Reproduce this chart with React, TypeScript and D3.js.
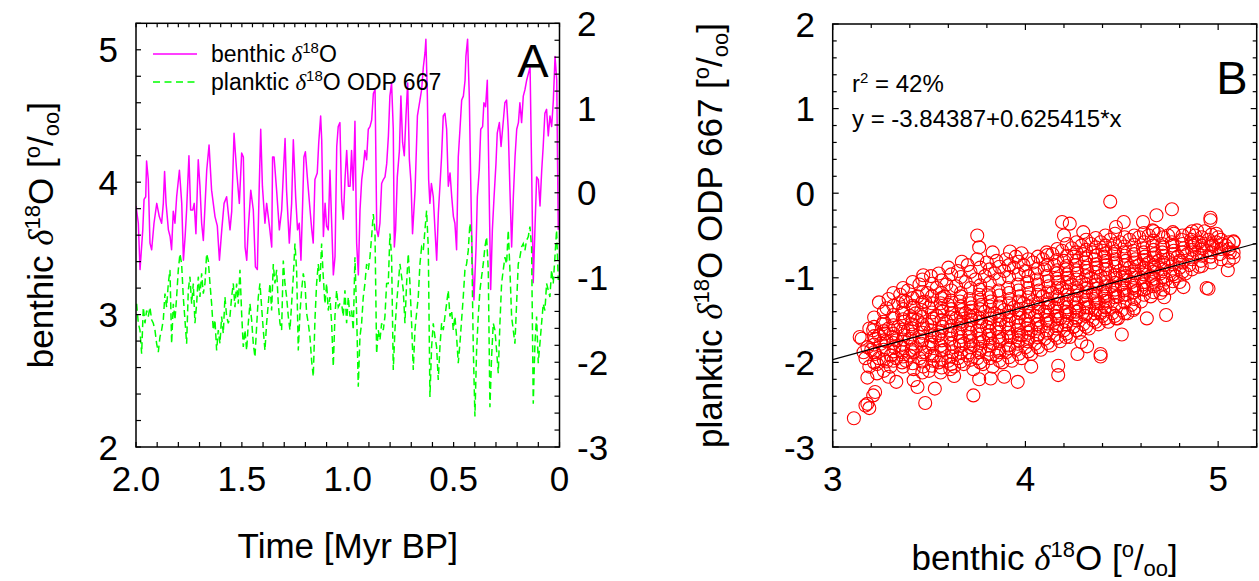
import React from "react";
import * as d3 from "d3";

// ---------- Panel A: benthic d18O (age in Myr BP, value in permil) ----------
const benthic: [number, number][] = [
  [2.000,3.82],[1.989,3.69],[1.981,3.34],[1.968,3.64],[1.962,3.87],[1.954,3.89],[1.950,4.16],[1.942,4.02],
  [1.934,3.54],[1.926,3.49],[1.915,3.69],[1.902,3.84],[1.890,3.74],[1.879,3.69],[1.871,3.84],[1.865,4.08],
  [1.858,3.84],[1.847,3.64],[1.839,3.59],[1.832,3.49],[1.824,3.78],[1.816,3.69],[1.808,3.89],[1.795,4.09],
  [1.784,3.84],[1.776,3.41],[1.768,3.59],[1.761,3.79],[1.750,4.20],[1.742,3.79],[1.732,3.79],[1.725,3.84],
  [1.717,3.61],[1.706,4.17],[1.698,3.97],[1.690,3.69],[1.682,3.56],[1.666,4.09],[1.655,4.28],[1.643,3.94],
  [1.627,3.74],[1.616,3.67],[1.606,3.41],[1.595,3.64],[1.584,3.84],[1.572,3.89],[1.556,3.64],[1.548,3.78],
  [1.537,4.37],[1.525,4.09],[1.512,3.84],[1.501,4.22],[1.493,4.19],[1.485,3.51],[1.477,3.41],[1.470,3.64],
  [1.458,3.94],[1.446,3.79],[1.436,3.36],[1.427,3.34],[1.418,3.97],[1.411,4.40],[1.403,3.97],[1.391,3.69],
  [1.383,3.84],[1.370,3.67],[1.359,3.51],[1.355,4.19],[1.348,4.19],[1.336,3.94],[1.323,3.64],[1.312,3.79],
  [1.304,4.07],[1.296,4.33],[1.289,3.94],[1.276,3.54],[1.265,3.84],[1.257,4.32],[1.246,3.89],[1.237,3.64],
  [1.229,3.69],[1.221,3.41],[1.213,3.84],[1.207,4.19],[1.200,4.23],[1.191,4.04],[1.178,3.79],[1.170,3.64],
  [1.163,3.54],[1.155,4.02],[1.144,4.07],[1.137,4.30],[1.128,4.50],[1.123,4.32],[1.115,3.59],[1.107,3.84],
  [1.100,3.67],[1.092,3.64],[1.084,4.09],[1.078,3.79],[1.068,3.30],[1.060,3.44],[1.052,4.27],[1.045,4.42],
  [1.037,4.45],[1.029,3.87],[1.021,3.72],[1.013,4.02],[1.005,4.24],[0.997,3.97],[0.989,3.97],[0.982,4.24],
  [0.974,3.94],[0.966,4.46],[0.958,3.54],[0.950,3.30],[0.942,3.79],[0.934,4.02],[0.926,4.12],[0.919,4.24],
  [0.911,4.17],[0.903,4.40],[0.895,4.42],[0.887,4.47],[0.879,4.67],[0.871,4.70],[0.863,3.64],[0.856,3.59],
  [0.848,3.69],[0.840,3.99],[0.832,4.02],[0.824,4.04],[0.816,4.14],[0.808,4.35],[0.801,4.65],[0.793,4.75],
  [0.785,4.40],[0.780,3.51],[0.774,3.64],[0.766,4.04],[0.756,4.24],[0.749,4.65],[0.741,4.30],[0.733,4.20],
  [0.725,4.50],[0.717,4.75],[0.709,4.17],[0.701,3.99],[0.694,3.61],[0.682,3.94],[0.671,4.50],[0.659,4.62],
  [0.651,4.70],[0.643,4.87],[0.635,4.98],[0.631,5.08],[0.624,4.65],[0.618,4.02],[0.612,3.84],[0.605,3.99],
  [0.596,3.89],[0.588,3.64],[0.580,3.41],[0.572,3.77],[0.564,3.99],[0.557,4.19],[0.549,4.50],[0.541,4.52],
  [0.533,4.40],[0.525,3.97],[0.517,4.07],[0.509,3.89],[0.501,3.74],[0.494,3.69],[0.486,3.49],[0.478,4.19],
  [0.470,4.40],[0.462,4.62],[0.454,4.65],[0.446,4.77],[0.442,4.95],[0.434,5.08],[0.426,4.65],[0.420,4.07],
  [0.412,3.39],[0.404,3.11],[0.394,3.51],[0.388,3.89],[0.379,4.09],[0.372,4.40],[0.363,4.42],[0.357,4.60],
  [0.349,4.57],[0.341,4.77],[0.333,4.02],[0.325,3.19],[0.317,3.64],[0.309,3.89],[0.300,4.14],[0.294,4.37],
  [0.284,4.45],[0.276,4.27],[0.265,4.47],[0.258,4.60],[0.250,4.62],[0.242,4.40],[0.234,3.94],[0.226,3.51],
  [0.218,3.89],[0.210,4.19],[0.202,4.40],[0.194,4.45],[0.187,4.60],[0.179,4.45],[0.171,4.65],[0.163,4.70],
  [0.155,4.77],[0.147,4.82],[0.139,4.87],[0.132,4.14],[0.124,3.24],[0.116,3.64],[0.108,4.04],[0.100,4.02],
  [0.092,3.82],[0.084,4.09],[0.077,4.27],[0.069,4.52],[0.061,4.55],[0.053,4.35],[0.045,4.50],[0.037,4.42],
  [0.029,4.62],[0.021,4.95],[0.013,4.77],[0.006,3.64],
];

// ---------- Panel A: planktic d18O ODP 667, sampled on a regular age grid ----------
const PLANKTIC_FIRST_AGE = 1.997; // Myr BP
const PLANKTIC_STEP = 0.00787; // Myr
const plankticValues: number[] = [
  -1.31,-1.54,-1.62,-1.90,-1.35,-1.54,-1.39,-1.46,-1.35,-1.50,
  -1.54,-1.62,-1.78,-1.88,-1.70,-1.62,-1.50,-1.19,-1.35,-1.07,
  -0.91,-1.78,-1.31,-1.50,-1.23,-0.91,-0.72,-0.84,-1.23,-1.50,
  -1.78,-1.15,-0.99,-1.31,-1.07,-1.54,-1.31,-0.99,-1.23,-0.95,
  -1.19,-1.07,-0.72,-0.80,-1.07,-1.31,-1.62,-1.50,-1.86,-1.62,
  -1.78,-1.46,-1.66,-1.23,-1.46,-1.54,-1.46,-1.23,-1.07,-1.35,
  -1.07,-1.31,-0.91,-1.42,-1.82,-1.62,-1.86,-1.54,-1.31,-1.50,
  -1.78,-1.94,-1.58,-1.23,-1.07,-1.35,-1.62,-1.86,-1.54,-1.31,
  -1.07,-1.39,-0.84,-1.07,-0.91,-1.31,-1.54,-1.62,-0.80,-1.07,
  -1.23,-1.46,-1.62,-1.31,-0.99,-0.60,-0.91,-1.86,-1.42,-1.15,
  -0.95,-1.07,-1.42,-1.54,-1.70,-1.98,-2.17,-1.50,-1.07,-0.84,
  -1.07,-0.60,-0.99,-1.31,-1.07,-1.39,-1.23,-1.54,-2.05,-1.46,
  -1.15,-1.35,-1.31,
  -1.31,-1.46,-1.15,-1.54,-1.23,-1.46,-1.39,-1.62,-0.76,-1.42,
  -2.29,-1.70,-1.54,-1.23,-1.07,-0.84,-0.91,-0.76,-0.52,-0.25,
  -0.44,-1.90,-1.62,-1.74,-1.54,-1.62,-1.46,-1.07,-1.07,-0.48,
  -0.76,-2.09,-1.62,-1.31,-1.07,-0.84,-0.99,-1.15,-1.54,-1.07,
  -0.72,-1.07,-1.54,-2.09,-1.62,-1.42,-1.23,-0.84,-0.64,-0.68,
  -0.44,-0.21,-0.64,-2.41,-1.82,-1.54,-1.70,-1.82,-2.21,-1.82,
  -1.54,-1.62,-1.46,-1.31,-1.15,-1.46,-1.39,-1.62,-1.46,-1.70,
  -2.01,-1.78,-1.50,-1.23,-0.91,-0.84,-0.68,-0.36,-0.52,-1.82,
  -2.64,-1.86,-1.46,-1.15,-0.99,-0.84,-0.64,-0.52,-0.91,-2.53,
  -1.94,-1.54,-1.62,-1.86,-2.13,-1.54,-1.07,-0.91,-0.76,-0.84,
  -0.44,-0.91,-1.46,-1.62,-1.78,-1.31,-0.84,-0.76,-0.64,-0.60,
  -0.68,-0.56,-0.52,-0.40,-0.64,-2.49,-1.78,-1.46,-2.01,-1.78,
  -1.54,-1.31,-1.39,-1.07,-1.15,-1.23,-0.91,-1.07,-0.76,-0.44,
  -1.03,
];

// ---------- Panel B: planktic vs benthic (x = benthic, y = planktic) ----------
const scatterPoints: [number, number][] = [
  // scattered outer points
  [3.11,-2.66],[3.18,-2.49],[3.19,-2.54],[3.17,-2.51],[3.22,-2.35],[3.21,-2.39],[3.18,-2.18],[3.23,-2.13],
  [3.14,-1.70],[3.24,-1.29],[3.48,-2.48],[3.73,-2.39],[3.96,-2.23],[3.82,-2.19],[3.76,-2.20],[3.89,-2.17],
  [4.17,-2.15],[4.39,-1.90],[4.39,-1.93],[4.27,-1.90],[4.32,-1.81],[4.50,-1.67],[4.63,-1.48],[4.73,-1.44],
  [4.82,-1.11],[4.95,-1.13],[5.05,-0.91],[5.08,-0.76],[5.08,-0.70],[5.08,-0.57],[4.99,-0.58],[4.96,-0.29],
  [4.96,-0.32],[4.76,-0.19],[4.44,-0.10],[4.68,-0.26],[4.61,-0.34],[4.51,-0.34],[4.47,-0.40],[4.19,-0.34],
  [4.23,-0.36],[4.20,-0.50],[3.75,-0.50],[3.76,-0.64],[4.30,-0.46],[4.90,-0.87],[4.94,-1.12],[4.72,-1.23],
  [4.56,-1.38],[4.39,-1.42],[4.47,-1.48],[4.25,-1.58],[4.21,-1.70],[4.29,-1.76],[4.17,-2.04],[4.03,-2.05],
  [3.63,-2.16],[3.42,-2.21],[3.53,-2.31],[3.44,-2.29],[3.33,-2.23],[3.29,-2.17],[3.28,-1.99],[3.47,-0.97],
  [3.67,-0.81],[3.83,-0.70],[3.92,-0.69],[3.98,-0.71],[4.11,-0.70],[4.77,-0.48],[4.89,-0.44],[4.88,-0.60],
  [4.99,-0.48],[4.80,-0.80],[4.66,-0.44],
  // dense core
  [3.15,-1.72],[3.18,-1.82],[3.19,-1.60],[3.17,-1.95],[3.19,-2.05],[3.16,-1.88],
  [3.20,-1.85],[3.22,-1.72],[3.24,-1.95],[3.21,-1.62],[3.25,-1.78],[3.23,-2.02],[3.26,-1.55],[3.24,-1.68],[3.22,-1.90],
  [3.28,-1.75],[3.29,-1.60],[3.30,-1.92],[3.31,-1.48],[3.28,-1.36],[3.32,-1.82],[3.30,-2.05],[3.27,-1.66],[3.31,-1.70],[3.29,-1.25],
  [3.34,-1.58],[3.35,-1.80],[3.36,-1.42],[3.33,-1.95],[3.37,-1.68],[3.35,-1.20],[3.34,-1.30],[3.36,-2.00],[3.37,-1.52],[3.33,-1.74],[3.36,-1.88],
  [3.39,-1.62],[3.40,-1.45],[3.41,-1.85],[3.38,-1.98],[3.42,-1.35],[3.40,-1.72],[3.39,-1.15],[3.41,-1.55],[3.42,-2.08],[3.38,-1.28],[3.40,-1.92],
  [3.44,-1.50],[3.45,-1.70],[3.46,-1.38],[3.43,-1.83],[3.47,-1.60],[3.45,-1.95],[3.44,-1.22],[3.46,-1.78],[3.47,-2.05],[3.43,-1.42],[3.45,-1.08],
  [3.49,-1.55],[3.50,-1.35],[3.51,-1.75],[3.48,-1.88],[3.52,-1.48],[3.50,-2.10],[3.49,-1.18],[3.51,-1.62],[3.52,-1.98],[3.48,-1.28],[3.50,-1.82],[3.51,-0.98],
  [3.54,-1.45],[3.55,-1.68],[3.56,-1.30],[3.53,-1.92],[3.57,-1.58],[3.55,-2.00],[3.54,-1.12],[3.56,-1.80],[3.57,-1.40],[3.53,-1.70],[3.55,-0.95],[3.56,-2.12],
  [3.59,-1.52],[3.60,-1.32],[3.61,-1.72],[3.58,-1.85],[3.62,-1.42],[3.60,-1.98],[3.59,-1.08],[3.61,-1.62],[3.62,-1.88],[3.58,-1.22],[3.60,-0.88],[3.61,-2.08],
  [3.64,-1.48],[3.65,-1.65],[3.66,-1.28],[3.63,-1.82],[3.67,-1.55],[3.65,-1.95],[3.64,-1.10],[3.66,-1.75],[3.67,-1.38],[3.63,-2.05],[3.65,-0.92],[3.66,-1.60],
  [3.69,-1.42],[3.70,-1.60],[3.71,-1.25],[3.68,-1.78],[3.72,-1.50],[3.70,-1.92],[3.69,-1.05],[3.71,-1.70],[3.72,-1.35],[3.68,-2.02],[3.70,-0.85],[3.71,-1.88],
  [3.74,-1.45],[3.75,-1.62],[3.76,-1.20],[3.73,-1.80],[3.77,-1.52],[3.75,-1.95],[3.74,-1.02],[3.76,-1.72],[3.77,-1.32],[3.73,-2.08],[3.75,-0.78],[3.76,-1.88],
  [3.79,-1.40],[3.80,-1.58],[3.81,-1.18],[3.78,-1.75],[3.82,-1.48],[3.80,-1.90],[3.79,-0.98],[3.81,-1.68],[3.82,-1.28],[3.78,-2.02],[3.80,-0.82],[3.81,-1.85],
  [3.84,-1.42],[3.85,-1.60],[3.86,-1.15],[3.83,-1.78],[3.87,-1.50],[3.85,-1.92],[3.84,-0.95],[3.86,-1.70],[3.87,-1.30],[3.83,-2.05],[3.85,-0.80],[3.86,-1.85],
  [3.89,-1.38],[3.90,-1.55],[3.91,-1.12],[3.88,-1.72],[3.92,-1.45],[3.90,-1.88],[3.89,-0.92],[3.91,-1.65],[3.92,-1.25],[3.88,-2.00],[3.90,-0.78],[3.91,-1.80],
  [3.94,-1.35],[3.95,-1.52],[3.96,-1.08],[3.93,-1.70],[3.97,-1.42],[3.95,-1.85],[3.94,-0.88],[3.96,-1.62],[3.97,-1.22],[3.93,-1.98],[3.95,-0.75],[3.96,-1.78],
  [3.99,-1.30],[4.00,-1.50],[4.01,-1.05],[3.98,-1.68],[4.02,-1.40],[4.00,-1.82],[3.99,-0.85],[4.01,-1.60],[4.02,-1.18],[3.98,-1.95],[4.00,-0.92],[4.01,-1.75],
  [4.04,-1.28],[4.05,-1.45],[4.06,-1.02],[4.03,-1.62],[4.07,-1.35],[4.05,-1.78],[4.04,-0.82],[4.06,-1.55],[4.07,-1.15],[4.03,-1.90],[4.05,-0.95],[4.06,-1.70],
  [4.09,-1.22],[4.10,-1.40],[4.11,-0.98],[4.08,-1.58],[4.12,-1.30],[4.10,-1.72],[4.09,-0.78],[4.11,-1.50],[4.12,-1.10],[4.08,-1.85],[4.10,-0.90],[4.11,-1.65],
  [4.14,-1.18],[4.15,-1.35],[4.16,-0.95],[4.13,-1.52],[4.17,-1.25],[4.15,-1.68],[4.14,-0.72],[4.16,-1.45],[4.17,-1.05],[4.13,-1.80],[4.15,-0.85],[4.16,-1.60],
  [4.19,-1.12],[4.20,-1.30],[4.21,-0.90],[4.18,-1.48],[4.22,-1.20],[4.20,-1.62],[4.19,-0.68],[4.21,-1.40],[4.22,-1.00],[4.18,-1.75],[4.20,-0.80],[4.21,-1.55],
  [4.24,-1.08],[4.25,-1.25],[4.26,-0.85],[4.23,-1.42],[4.27,-1.15],[4.25,-1.58],[4.24,-0.65],[4.26,-1.35],[4.27,-0.95],[4.23,-1.70],[4.25,-0.75],[4.26,-1.50],
  [4.29,-1.05],[4.30,-1.22],[4.31,-0.82],[4.28,-1.38],[4.32,-1.12],[4.30,-1.55],[4.29,-0.62],[4.31,-1.30],[4.32,-0.92],[4.28,-1.65],[4.30,-0.72],[4.31,-1.45],
  [4.34,-1.00],[4.35,-1.18],[4.36,-0.78],[4.33,-1.35],[4.37,-1.08],[4.35,-1.50],[4.34,-0.60],[4.36,-1.25],[4.37,-0.88],[4.33,-1.60],[4.35,-0.70],[4.36,-1.42],
  [4.39,-0.98],[4.40,-1.15],[4.41,-0.75],[4.38,-1.30],[4.42,-1.05],[4.40,-1.45],[4.39,-0.58],[4.41,-1.22],[4.42,-0.85],[4.38,-1.55],[4.40,-0.68],[4.41,-1.38],
  [4.44,-0.95],[4.45,-1.10],[4.46,-0.72],[4.43,-1.28],[4.47,-1.00],[4.45,-1.42],[4.44,-0.55],[4.46,-1.18],[4.47,-0.82],[4.43,-1.52],[4.45,-0.65],
  [4.49,-0.92],[4.50,-1.08],[4.51,-0.70],[4.48,-1.22],[4.52,-0.98],[4.50,-1.38],[4.49,-0.58],[4.51,-1.15],[4.52,-0.80],[4.48,-1.48],
  [4.54,-0.88],[4.55,-1.05],[4.56,-0.68],[4.53,-1.20],[4.57,-0.95],[4.55,-1.32],[4.54,-0.55],[4.56,-1.12],[4.57,-0.78],[4.53,-1.42],
  [4.59,-0.85],[4.60,-1.00],[4.61,-0.65],[4.58,-1.15],[4.62,-0.92],[4.60,-1.28],[4.59,-0.52],[4.61,-1.08],[4.62,-0.75],
  [4.64,-0.82],[4.65,-0.98],[4.66,-0.62],[4.63,-1.12],[4.67,-0.88],[4.65,-1.22],[4.64,-0.50],[4.66,-1.05],[4.67,-0.72],
  [4.69,-0.80],[4.70,-0.95],[4.71,-0.60],[4.68,-1.08],[4.72,-0.85],[4.70,-1.18],[4.69,-0.48],[4.71,-0.70],
  [4.74,-0.78],[4.75,-0.92],[4.76,-0.58],[4.73,-1.02],[4.77,-0.68],[4.75,-1.12],[4.74,-0.50],
  [4.79,-0.75],[4.80,-0.88],[4.81,-0.55],[4.78,-0.98],[4.82,-0.65],[4.80,-1.05],
  [4.84,-0.72],[4.85,-0.85],[4.86,-0.55],[4.83,-0.95],[4.87,-0.62],[4.85,-0.48],
  [4.89,-0.70],[4.90,-0.58],[4.91,-0.80],[4.88,-0.50],[4.92,-0.65],
  [4.94,-0.68],[4.95,-0.55],[4.96,-0.75],[4.93,-0.45],[4.97,-0.62],
  [4.99,-0.65],[5.00,-0.52],[5.01,-0.72],[5.02,-0.60],
  [5.04,-0.62],[5.06,-0.70],[5.08,-0.58],
  // further core points between the above
  [3.215,-1.47],[3.215,-1.58],[3.215,-1.79],[3.215,-1.88],[3.215,-2.00],[3.215,-1.69],
  [3.265,-1.40],[3.265,-1.52],[3.265,-1.63],[3.265,-1.85],[3.265,-1.97],[3.265,-1.74],[3.265,-2.10],
  [3.315,-1.33],[3.315,-1.44],[3.315,-1.56],[3.315,-1.66],[3.315,-1.87],[3.315,-1.98],[3.315,-1.77],[3.315,-1.18],
  [3.365,-1.27],[3.365,-1.37],[3.365,-1.49],[3.365,-1.61],[3.365,-1.73],[3.365,-1.83],[3.365,-1.93],[3.365,-2.05],[3.365,-1.12],
  [3.415,-1.24],[3.415,-1.33],[3.415,-1.49],[3.415,-1.67],[3.415,-1.78],[3.415,-1.88],[3.415,-2.01],[3.415,-1.60],[3.415,-1.05],
  [3.465,-1.17],[3.465,-1.29],[3.465,-1.46],[3.465,-1.55],[3.465,-1.65],[3.465,-1.74],[3.465,-1.88],[3.465,-1.99],[3.465,-1.02],[3.465,-2.12],
  [3.515,-1.07],[3.515,-1.22],[3.515,-1.41],[3.515,-1.52],[3.515,-1.68],[3.515,-1.79],[3.515,-1.92],[3.515,-2.04],[3.515,-1.30],
  [3.565,-1.03],[3.565,-1.18],[3.565,-1.36],[3.565,-1.50],[3.565,-1.63],[3.565,-1.74],[3.565,-1.86],[3.565,-1.96],[3.565,-1.24],[3.565,-2.06],
  [3.615,-0.96],[3.615,-1.15],[3.615,-1.27],[3.615,-1.37],[3.615,-1.47],[3.615,-1.57],[3.615,-1.67],[3.615,-1.78],[3.615,-1.93],[3.615,-2.02],
  [3.665,-0.99],[3.665,-1.18],[3.665,-1.34],[3.665,-1.44],[3.665,-1.52],[3.665,-1.70],[3.665,-1.80],[3.665,-1.89],[3.665,-1.99],[3.665,-1.22],
  [3.715,-0.93],[3.715,-1.12],[3.715,-1.30],[3.715,-1.39],[3.715,-1.46],[3.715,-1.55],[3.715,-1.65],[3.715,-1.75],[3.715,-1.82],[3.715,-1.97],
  [3.765,-0.88],[3.765,-1.09],[3.765,-1.26],[3.765,-1.37],[3.765,-1.48],[3.765,-1.57],[3.765,-1.67],[3.765,-1.77],[3.765,-1.84],[3.765,-2.00],[3.765,-1.14],
  [3.815,-0.90],[3.815,-1.06],[3.815,-1.23],[3.815,-1.34],[3.815,-1.44],[3.815,-1.53],[3.815,-1.63],[3.815,-1.72],[3.815,-1.80],[3.815,-1.95],
  [3.865,-0.87],[3.865,-1.02],[3.865,-1.21],[3.865,-1.34],[3.865,-1.45],[3.865,-1.55],[3.865,-1.64],[3.865,-1.75],[3.865,-1.88],[3.865,-1.98],
  [3.915,-0.85],[3.915,-0.99],[3.915,-1.18],[3.915,-1.30],[3.915,-1.40],[3.915,-1.50],[3.915,-1.60],[3.915,-1.70],[3.915,-1.83],[3.915,-1.94],
  [3.965,-0.81],[3.965,-0.96],[3.965,-1.15],[3.965,-1.28],[3.965,-1.38],[3.965,-1.47],[3.965,-1.56],[3.965,-1.67],[3.965,-1.74],[3.965,-1.90],
  [4.015,-0.78],[4.015,-0.98],[4.015,-1.12],[4.015,-1.23],[4.015,-1.34],[4.015,-1.45],[4.015,-1.55],[4.015,-1.65],[4.015,-1.71],[4.015,-1.87],
  [4.065,-0.75],[4.065,-0.89],[4.065,-1.08],[4.065,-1.20],[4.065,-1.31],[4.065,-1.40],[4.065,-1.50],[4.065,-1.60],[4.065,-1.67],[4.065,-1.82],
  [4.115,-0.73],[4.115,-0.85],[4.115,-1.04],[4.115,-1.17],[4.115,-1.26],[4.115,-1.35],[4.115,-1.44],[4.115,-1.54],[4.115,-1.62],[4.115,-1.77],
  [4.165,-0.66],[4.165,-0.79],[4.165,-0.91],[4.165,-1.01],[4.165,-1.12],[4.165,-1.22],[4.165,-1.31],[4.165,-1.40],[4.165,-1.49],[4.165,-1.57],[4.165,-1.71],
  [4.215,-0.60],[4.215,-0.74],[4.215,-0.86],[4.215,-0.96],[4.215,-1.06],[4.215,-1.16],[4.215,-1.26],[4.215,-1.35],[4.215,-1.44],[4.215,-1.52],[4.215,-1.66],
  [4.265,-0.58],[4.265,-0.70],[4.265,-0.80],[4.265,-0.91],[4.265,-1.02],[4.265,-1.12],[4.265,-1.21],[4.265,-1.30],[4.265,-1.40],[4.265,-1.47],[4.265,-1.62],
  [4.315,-0.55],[4.315,-0.67],[4.315,-0.77],[4.315,-0.88],[4.315,-0.98],[4.315,-1.08],[4.315,-1.17],[4.315,-1.26],[4.315,-1.35],[4.315,-1.42],[4.315,-1.58],
  [4.365,-0.53],[4.365,-0.64],[4.365,-0.74],[4.365,-0.84],[4.365,-0.94],[4.365,-1.04],[4.365,-1.13],[4.365,-1.21],[4.365,-1.30],[4.365,-1.38],[4.365,-1.52],
  [4.415,-0.50],[4.415,-0.62],[4.415,-0.71],[4.415,-0.80],[4.415,-0.90],[4.415,-1.00],[4.415,-1.10],[4.415,-1.18],[4.415,-1.27],[4.415,-1.35],[4.415,-1.48],
  [4.465,-0.48],[4.465,-0.60],[4.465,-0.69],[4.465,-0.78],[4.465,-0.87],[4.465,-0.97],[4.465,-1.06],[4.465,-1.14],[4.465,-1.23],[4.465,-1.32],[4.465,-1.45],
  [4.515,-0.52],[4.515,-0.63],[4.515,-0.74],[4.515,-0.85],[4.515,-0.94],[4.515,-1.03],[4.515,-1.12],[4.515,-1.20],[4.515,-1.29],[4.515,-1.42],
  [4.565,-0.50],[4.565,-0.61],[4.565,-0.72],[4.565,-0.82],[4.565,-0.91],[4.565,-1.00],[4.565,-1.09],[4.565,-1.17],[4.565,-1.25],[4.565,-1.36],
  [4.615,-0.47],[4.615,-0.58],[4.615,-0.70],[4.615,-0.79],[4.615,-0.88],[4.615,-0.96],[4.615,-1.05],[4.615,-1.14],[4.615,-1.20],
  [4.665,-0.45],[4.665,-0.56],[4.665,-0.67],[4.665,-0.76],[4.665,-0.85],[4.665,-0.93],[4.665,-1.01],[4.665,-1.10],[4.665,-1.17],
  [4.715,-0.52],[4.715,-0.64],[4.715,-0.74],[4.715,-0.82],[4.715,-0.90],[4.715,-0.99],[4.715,-1.07],[4.715,-1.14],
  [4.765,-0.46],[4.765,-0.62],[4.765,-0.72],[4.765,-0.84],[4.765,-0.96],[4.765,-1.04],
  [4.815,-0.50],[4.815,-0.60],[4.815,-0.70],[4.815,-0.82],[4.815,-0.93],
  [4.865,-0.45],[4.865,-0.58],[4.865,-0.67],[4.865,-0.78],[4.865,-0.90],
  [4.915,-0.52],[4.915,-0.62],[4.915,-0.74],[4.915,-0.86],
  [4.965,-0.49],[4.965,-0.60],[4.965,-0.70],[4.965,-0.82],
  [5.015,-0.55],[5.015,-0.66],[5.015,-0.78],
  [5.055,-0.58],[5.055,-0.66],[5.055,-0.80],
];

const REG_INTERCEPT = -3.84387;
const REG_SLOPE = 0.625415;
const rSquaredLabel = "42%";
const equationLabel = "y = -3.84387+0.625415*x";

// tick labels
const timeTicks = [2, 1.5, 1, 0.5, 0];
const timeTickLabels = ["2.0", "1.5", "1.0", "0.5", "0"];
const benthicTicks = [2, 3, 4, 5];
const plankticTicks = [-3, -2, -1, 0, 1, 2];
const scatterXTicks = [3, 4, 5];
const scatterYTicks = [-3, -2, -1, 0, 1, 2];

const FONT = "'Liberation Sans', Arial, Helvetica, sans-serif";
const GREEK = "'Liberation Serif', 'DejaVu Serif', serif";
const MAGENTA = "#ff00ff";
const GREEN = "#00ff00";
const RED = "#ff0000";

const isInt = (v: number) => Math.abs(v - Math.round(v)) < 1e-6;

function Delta18O({ size }: { size: number }) {
  const s = Math.round(size * 0.64);
  const up = Math.round(size * 0.38);
  return (
    <>
      <tspan fontFamily={GREEK} fontStyle="italic">δ</tspan>
      <tspan fontSize={s} dy={-up}>18</tspan>
      <tspan dy={up}>O</tspan>
    </>
  );
}

function PerMil({ size }: { size: number }) {
  const s = Math.round(size * 0.64);
  const up = Math.round(size * 0.38);
  const down = Math.round(size * 0.18);
  return (
    <>
      <tspan>[</tspan>
      <tspan fontSize={s} dy={-up}>o</tspan>
      <tspan dy={up}>/</tspan>
      <tspan fontSize={s} dy={down}>oo</tspan>
      <tspan dy={-down}>]</tspan>
    </>
  );
}

export default function App() {
  // panel A geometry
  const AL = 136, AR = 559.5, AT = 23.3, AB = 447;
  // panel B geometry
  const BL = 832.7, BR = 1256.7, BT = 24, BB = 447;

  const xA = d3.scaleLinear().domain([2, 0]).range([AL, AR]);
  const yAL = d3.scaleLinear().domain([2, 5.2]).range([AB, AT]);
  const yAR = d3.scaleLinear().domain([-3, 2]).range([AB, AT]);
  const xB = d3.scaleLinear().domain([3, 5.2]).range([BL, BR]);
  const yB = d3.scaleLinear().domain([-3, 2]).range([BB, BT]);

  const planktic: [number, number][] = plankticValues.map((v, i) => [
    PLANKTIC_FIRST_AGE - i * PLANKTIC_STEP,
    v,
  ]);

  const benthicLine = d3
    .line<[number, number]>()
    .x((d) => xA(d[0]))
    .y((d) => yAL(d[1]))(benthic) as string;
  const plankticLine = d3
    .line<[number, number]>()
    .x((d) => xA(d[0]))
    .y((d) => yAR(d[1]))(planktic) as string;

  const regX = xB.domain();
  const tickFs = 35;
  const titleFs = 35;

  const aLeftTicks = d3.range(2, 5.2001, 0.2);
  const aRightTicks = d3.range(-3, 2.0001, 0.2);
  const aBottomTicks = d3.range(0, 2.0001, 0.1);
  const aTopTicks = d3.range(0, 2.0001, 0.05);
  const bYTicks = d3.range(-3, 2.0001, 0.2);
  const bXTicks = d3.range(3, 5.2001, 0.2);

  const axisStroke = { stroke: "#000", strokeWidth: 1.5, fill: "none" } as const;

  return (
    <svg
      width={1259}
      height={581}
      style={{ position: "absolute", left: 0, top: 0, background: "#fff" }}
      fontFamily={FONT}
    >
      <rect x={0} y={0} width={1259} height={581} fill="#fff" />
      <defs>
        <clipPath id="clipA">
          <rect x={AL} y={AT} width={AR - AL} height={AB - AT} />
        </clipPath>
        <clipPath id="clipB">
          <rect x={BL} y={BT} width={BR - BL} height={BB - BT} />
        </clipPath>
      </defs>

      {/* ================= Panel A ================= */}
      <g clipPath="url(#clipA)">
        <path d={benthicLine} fill="none" stroke={MAGENTA} strokeWidth={1.5} strokeLinejoin="round" />
        <path d={plankticLine} fill="none" stroke={GREEN} strokeWidth={1.5} strokeDasharray="7,4" />
      </g>
      <rect x={AL} y={AT} width={AR - AL} height={AB - AT} {...axisStroke} />
      {aLeftTicks.map((v, i) => (
        <line key={"al" + i} x1={AL} x2={AL + 5} y1={yAL(v)} y2={yAL(v)} stroke="#000" strokeWidth={1.2} />
      ))}
      {aRightTicks.map((v, i) => (
        <line key={"ar" + i} x1={AR} x2={AR - 5} y1={yAR(v)} y2={yAR(v)} stroke="#000" strokeWidth={1.2} />
      ))}
      {aBottomTicks.map((v, i) => (
        <line key={"ab" + i} x1={xA(v)} x2={xA(v)} y1={AB} y2={AB - 5} stroke="#000" strokeWidth={1.2} />
      ))}
      {aTopTicks.map((v, i) => (
        <line key={"at" + i} x1={xA(v)} x2={xA(v)} y1={AT} y2={AT + 4} stroke="#000" strokeWidth={1.2} />
      ))}
      {benthicTicks.map((v) => (
        <text key={"alt" + v} x={118} y={yAL(v) + 12.5} fontSize={tickFs} textAnchor="end">
          {v}
        </text>
      ))}
      {plankticTicks.map((v) => (
        <text key={"art" + v} x={577} y={yAR(v) + 12.5} fontSize={tickFs} textAnchor="start">
          {v}
        </text>
      ))}
      {timeTicks.map((v, i) => (
        <text key={"abt" + v} x={xA(v)} y={491} fontSize={tickFs} textAnchor="middle">
          {timeTickLabels[i]}
        </text>
      ))}
      <text x={(AL + AR) / 2} y={558} fontSize={titleFs} textAnchor="middle">
        Time [Myr BP]
      </text>
      <text transform={`translate(53, ${(AT + AB) / 2}) rotate(-90)`} fontSize={titleFs} textAnchor="middle">
        <tspan>benthic </tspan>
        <Delta18O size={titleFs} />
        <tspan> </tspan>
        <PerMil size={titleFs} />
      </text>
      {/* legend */}
      <line x1={153} x2={197} y1={54} y2={54} stroke={MAGENTA} strokeWidth={1.5} />
      <line x1={153} x2={197} y1={82} y2={82} stroke={GREEN} strokeWidth={1.5} strokeDasharray="7,4.5" />
      <text x={211} y={62} fontSize={23}>
        <tspan>benthic </tspan>
        <Delta18O size={23} />
      </text>
      <text x={211} y={90} fontSize={23}>
        <tspan>planktic </tspan>
        <Delta18O size={23} />
        <tspan> ODP 667</tspan>
      </text>
      <text x={533} y={77} fontSize={47} textAnchor="middle">
        A
      </text>

      {/* ================= Panel B ================= */}
      <g clipPath="url(#clipB)">
        {scatterPoints.map((p, i) => (
          <circle key={"s" + i} cx={xB(p[0])} cy={yB(p[1])} r={6.5} fill="none" stroke={RED} strokeWidth={1.1} />
        ))}
        <line
          x1={xB(regX[0])}
          y1={yB(REG_INTERCEPT + REG_SLOPE * regX[0])}
          x2={xB(regX[1])}
          y2={yB(REG_INTERCEPT + REG_SLOPE * regX[1])}
          stroke="#000"
          strokeWidth={1.2}
        />
      </g>
      <rect x={BL} y={BT} width={BR - BL} height={BB - BT} {...axisStroke} />
      {bYTicks.map((v, i) => {
        const len = isInt(v) ? 6 : 4;
        return (
          <g key={"by" + i}>
            <line x1={BL} x2={BL + len} y1={yB(v)} y2={yB(v)} stroke="#000" strokeWidth={1.2} />
            <line x1={BR} x2={BR - len} y1={yB(v)} y2={yB(v)} stroke="#000" strokeWidth={1.2} />
          </g>
        );
      })}
      {bXTicks.map((v, i) => {
        const len = isInt(v) ? 6 : 4;
        return (
          <g key={"bx" + i}>
            <line x1={xB(v)} x2={xB(v)} y1={BB} y2={BB - len} stroke="#000" strokeWidth={1.2} />
            <line x1={xB(v)} x2={xB(v)} y1={BT} y2={BT + len} stroke="#000" strokeWidth={1.2} />
          </g>
        );
      })}
      {scatterYTicks.map((v) => (
        <text key={"byt" + v} x={815} y={yB(v) + 12.5} fontSize={tickFs} textAnchor="end">
          {v}
        </text>
      ))}
      {scatterXTicks.map((v) => (
        <text key={"bxt" + v} x={xB(v)} y={491} fontSize={tickFs} textAnchor="middle">
          {v}
        </text>
      ))}
      <text x={(BL + BR) / 2} y={570} fontSize={titleFs} textAnchor="middle">
        <tspan>benthic </tspan>
        <Delta18O size={titleFs} />
        <tspan> </tspan>
        <PerMil size={titleFs} />
      </text>
      <text transform={`translate(722, ${(BT + BB) / 2}) rotate(-90)`} fontSize={titleFs} textAnchor="middle">
        <tspan>planktic </tspan>
        <Delta18O size={titleFs} />
        <tspan> ODP 667 </tspan>
        <PerMil size={titleFs} />
      </text>
      <text x={852} y={92} fontSize={24}>
        <tspan>r</tspan>
        <tspan fontSize={15} dy={-9}>2</tspan>
        <tspan dy={9}>{" = " + rSquaredLabel}</tspan>
      </text>
      <text x={852} y={127} fontSize={24}>
        {equationLabel}
      </text>
      <text x={1232} y={94} fontSize={47} textAnchor="middle">
        B
      </text>
    </svg>
  );
}
